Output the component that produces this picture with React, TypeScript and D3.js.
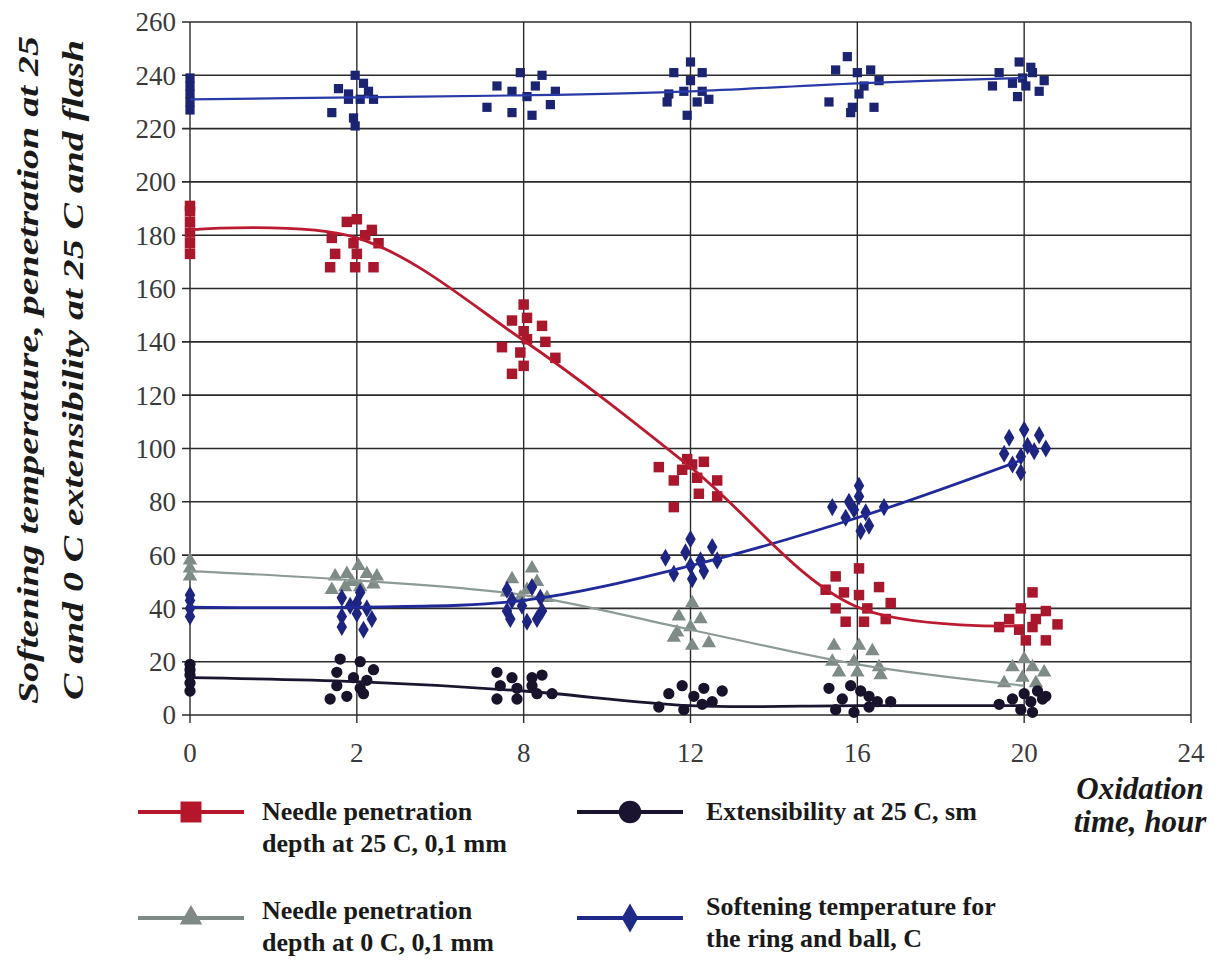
import React from 'react';
import * as d3 from 'd3';

// x categories (oxidation time, hours) - evenly spaced on the chart
const xLabels = ['0', '2', '8', '12', '16', '20', '24'];
const yTicks = [0, 20, 40, 60, 80, 100, 120, 140, 160, 180, 200, 220, 240, 260];

// fitted line values at positions 0..5 (0, 2, 8, 12, 16, 20 h)
const needle25Line = [182, 179, 140.5, 93, 40.5, 33.5];
const needle0Line = [54, 50.5, 45, 32, 19, 11];
const extensLine = [14, 12.5, 9, 3.5, 3.5, 3.5];
const softenLine = [40.5, 40.5, 43, 56, 74, 96];
const flashLine = [231, 231.7, 232.5, 234, 237, 239];

// measured points [position, value]
const needle25Pts = [
  [0, 173], [0, 177], [0, 181], [0, 185], [0, 189], [0, 191],
  [0.94, 185], [1.0, 186], [1.09, 182], [1.13, 177], [0.85, 179], [0.98, 177], [0.87, 173],
  [0.84, 168], [0.99, 168], [1.1, 168], [1.0, 173], [1.05, 180],
  [2.0, 154], [1.93, 148], [2.02, 149], [2.11, 146], [2.0, 144], [2.02, 141], [2.13, 140],
  [1.87, 138], [1.98, 136], [2.19, 134], [2.0, 131], [1.93, 128],
  [2.81, 93], [2.9, 88], [2.98, 96], [3.01, 94], [3.08, 95], [3.04, 89], [3.16, 88],
  [3.05, 83], [3.16, 82], [2.9, 78], [2.95, 92],
  [3.87, 52], [4.01, 55], [3.81, 47], [3.92, 46], [4.01, 45], [4.13, 48], [3.87, 40],
  [4.06, 40], [4.2, 42], [3.93, 35], [4.04, 35], [4.17, 36],
  [5.05, 46], [4.98, 40], [5.13, 39], [4.91, 36], [5.07, 36], [5.2, 34], [4.85, 33],
  [4.97, 32], [5.05, 33], [5.01, 28], [5.13, 28],
];
const flashPts = [
  [0, 227], [0, 230], [0, 233], [0, 236], [0, 239],
  [0.99, 240], [0.89, 235], [1.07, 234], [0.95, 231], [1.02, 231], [1.1, 231], [0.85, 226],
  [0.98, 224], [0.99, 221], [0.95, 233], [1.04, 237],
  [1.98, 241], [2.11, 240], [1.84, 236], [1.93, 234], [2.07, 236], [2.19, 234], [1.78, 228],
  [1.93, 226], [2.05, 225], [2.16, 229], [2.02, 232],
  [3.0, 245], [2.9, 241], [3.07, 241], [3.0, 238], [2.87, 233], [2.96, 234], [3.07, 234],
  [3.11, 231], [2.86, 230], [2.98, 225], [3.04, 230],
  [3.94, 247], [3.87, 242], [4.0, 241], [4.08, 242], [4.13, 238], [4.04, 236], [3.83, 230],
  [3.97, 228], [4.1, 228], [3.96, 226], [4.01, 233],
  [4.97, 245], [4.85, 241], [5.05, 241], [5.12, 238], [4.81, 236], [4.93, 237], [5.01, 236],
  [5.09, 234], [4.96, 232], [4.99, 239], [5.04, 243],
];
const softenPts = [
  [0, 37], [0, 40], [0, 43], [0, 45],
  [0.91, 44], [1.02, 46], [0.96, 41], [1.06, 40], [0.91, 37], [1.0, 38], [1.09, 36],
  [0.91, 33], [1.04, 32], [1.0, 42],
  [1.9, 47], [2.05, 48], [1.93, 43], [2.1, 44], [1.9, 39], [1.99, 41], [2.11, 39],
  [1.92, 36], [2.02, 35], [2.08, 36],
  [3.0, 66], [2.85, 59], [2.97, 61], [3.06, 58], [3.13, 63], [2.9, 53], [3.01, 51],
  [3.08, 54], [3.16, 58], [3.0, 56],
  [4.01, 86], [4.01, 82], [3.85, 78], [3.95, 80], [4.05, 76], [4.16, 78], [3.93, 74],
  [4.07, 71], [4.02, 69], [3.98, 77],
  [5.0, 107], [4.91, 104], [5.09, 105], [5.13, 100], [4.88, 98], [4.98, 97], [5.06, 99],
  [4.93, 94], [4.98, 91], [5.02, 101],
];
const needle0Pts = [
  [0, 52], [0, 55], [0, 58],
  [0.87, 52], [0.94, 53], [1.01, 56], [1.06, 53], [1.12, 52], [0.85, 47], [0.93, 48],
  [1.02, 48], [1.1, 49], [0.97, 50],
  [2.05, 55], [1.93, 51], [2.08, 50], [1.9, 46], [2.02, 47], [2.14, 44], [1.98, 44],
  [3.01, 42], [2.93, 37], [3.06, 36], [3.0, 33], [2.92, 31], [3.11, 27], [3.01, 26], [2.9, 29],
  [3.86, 26], [4.01, 26], [4.09, 24], [3.85, 20], [3.98, 20], [4.13, 18], [3.89, 16],
  [4.14, 15], [4.0, 16],
  [5.0, 21], [4.93, 18], [5.05, 18], [5.12, 16], [4.88, 12], [4.99, 14], [5.07, 12],
];
const extensPts = [
  [0, 9], [0, 12], [0, 15], [0, 17], [0, 19],
  [0.9, 21], [1.02, 20], [1.1, 17], [0.88, 16], [0.98, 14], [1.06, 13], [0.88, 11],
  [1.02, 10], [0.84, 6], [0.94, 7], [1.04, 8],
  [1.84, 16], [1.93, 14], [2.05, 14], [2.11, 15], [1.86, 11], [1.96, 10], [2.05, 11],
  [1.84, 6], [1.96, 6], [2.08, 8], [2.17, 8],
  [2.95, 11], [3.08, 10], [3.19, 9], [2.87, 8], [3.02, 7], [2.81, 3], [2.96, 2],
  [3.07, 4], [3.13, 5],
  [3.83, 10], [3.96, 11], [4.02, 9], [4.07, 7], [3.91, 6], [4.12, 5], [4.2, 5],
  [3.87, 2], [3.98, 1], [4.07, 3],
  [5.08, 9], [5.13, 7], [4.93, 6], [5.04, 5], [4.85, 4], [4.98, 2], [5.05, 1],
  [5.11, 6], [5.0, 8],
];

const W = 1217;
const H = 960;
const plot = { left: 190, right: 1191, top: 22, bottom: 715 };

const x = d3.scaleLinear().domain([0, 6]).range([plot.left, plot.right]);
const y = d3.scaleLinear().domain([0, 260]).range([plot.bottom, plot.top]);

const serif = '"Liberation Serif", "Times New Roman", serif';

const sym = (type: d3.SymbolType, size: number) => d3.symbol().type(type).size(size)() as string;

const series = [
  { key: 'needle0', line: needle0Line, pts: needle0Pts, color: '#8e9a94', mcolor: '#7f8b86', width: 2.2, shape: d3.symbolTriangle, size: 90 },
  { key: 'extens', line: extensLine, pts: extensPts, color: '#1c1530', mcolor: '#18122a', width: 2.8, shape: d3.symbolCircle, size: 100 },
  { key: 'soften', line: softenLine, pts: softenPts, color: '#1f2a98', mcolor: '#1d2580', width: 2.8, shape: d3.symbolDiamond, size: 95 },
  { key: 'needle25', line: needle25Line, pts: needle25Pts, color: '#bb1a30', mcolor: '#a8172c', width: 2.8, shape: d3.symbolSquare, size: 110 },
  { key: 'flash', line: flashLine, pts: flashPts, color: '#2a3aa8', mcolor: '#1b2470', width: 2.2, shape: d3.symbolSquare, size: 85 },
];

const legendItems = [
  { color: '#b5162c', shape: d3.symbolSquare, size: 440, lines: ['Needle penetration', 'depth at 25 C, 0,1 mm'], col: 0, row: 0 },
  { color: '#1a1430', shape: d3.symbolCircle, size: 400, lines: ['Extensibility at 25 C, sm'], col: 1, row: 0 },
  { color: '#7f8a86', shape: d3.symbolTriangle, size: 220, lines: ['Needle penetration', 'depth at 0 C, 0,1 mm'], col: 0, row: 1 },
  { color: '#1f2a88', shape: d3.symbolDiamond, size: 240, lines: ['Softening temperature for', 'the ring and ball, C'], col: 1, row: 1 },
];

export default function App() {
  const lineGen = d3
    .line<number>()
    .x((_, i) => x(i))
    .y((d) => y(d))
    .curve(d3.curveCatmullRom.alpha(0.5));

  return (
    <svg width={W} height={H} style={{ position: 'absolute', left: 0, top: 0, background: '#fff' }}>
      <rect width={W} height={H} fill="#fff" />
      {/* horizontal grid + y ticks */}
      {yTicks.map((t) => (
        <g key={'y' + t}>
          <line x1={plot.left - 8} x2={plot.right} y1={y(t)} y2={y(t)} stroke="#2b2b2b" strokeWidth={1.6} />
          <text x={plot.left - 14} y={y(t)} dy="0.35em" textAnchor="end" fontFamily={serif} fontSize={27} fill="#3a3a3a">
            {t}
          </text>
        </g>
      ))}
      {/* vertical grid + x ticks */}
      {xLabels.map((l, i) => (
        <g key={'x' + l}>
          <line x1={x(i)} x2={x(i)} y1={plot.top} y2={plot.bottom + 8} stroke="#2b2b2b" strokeWidth={1.4} />
          <text x={x(i)} y={762} textAnchor="middle" fontFamily={serif} fontSize={27} fill="#3a3a3a">
            {l}
          </text>
        </g>
      ))}

      {/* series */}
      {series.map((s) => (
        <g key={s.key}>
          {s.pts.map((p, j) => (
            <path key={j} d={sym(s.shape, s.size)} transform={`translate(${x(p[0])},${y(p[1])})`} fill={s.mcolor} />
          ))}
          <path d={lineGen(s.line) as string} fill="none" stroke={s.color} strokeWidth={s.width} />
        </g>
      ))}

      {/* y axis title */}
      <g fontFamily={serif} fontWeight="bold" fontStyle="italic" fontSize={30} fill="#1a1a1a">
        <text transform="translate(38,370) rotate(-90)" textAnchor="middle" textLength={668} lengthAdjust="spacingAndGlyphs">
          Softening temperature, penetration at 25
        </text>
        <text transform="translate(83,370) rotate(-90)" textAnchor="middle" textLength={660} lengthAdjust="spacingAndGlyphs">
          C and 0 C extensibility at 25 C and flash
        </text>
      </g>

      {/* x axis title */}
      <g fontFamily={serif} fontWeight="bold" fontStyle="italic" fontSize={31} fill="#1a1a1a" textAnchor="middle">
        <text x={1140} y={799}>Oxidation</text>
        <text x={1140} y={832}>time, hour</text>
      </g>

      {/* legend */}
      {legendItems.map((it, i) => {
        const lx = it.col === 0 ? 138 : 577;
        const ly = it.row === 0 ? 812 : 918;
        const tx = it.col === 0 ? 262 : 706;
        const ty = it.row === 0 ? 820 : it.col === 0 ? 919 : 915;
        return (
          <g key={i}>
            <line x1={lx} x2={lx + 106} y1={ly} y2={ly} stroke={it.color} strokeWidth={4} />
            <path d={sym(it.shape, it.size)} transform={`translate(${lx + 53},${ly})`} fill={it.color} />
            {it.lines.map((t, k) => (
              <text key={k} x={tx} y={ty + k * 32} fontFamily={serif} fontWeight="bold" fontSize={26} fill="#1a1a1a">
                {t}
              </text>
            ))}
          </g>
        );
      })}
    </svg>
  );
}
